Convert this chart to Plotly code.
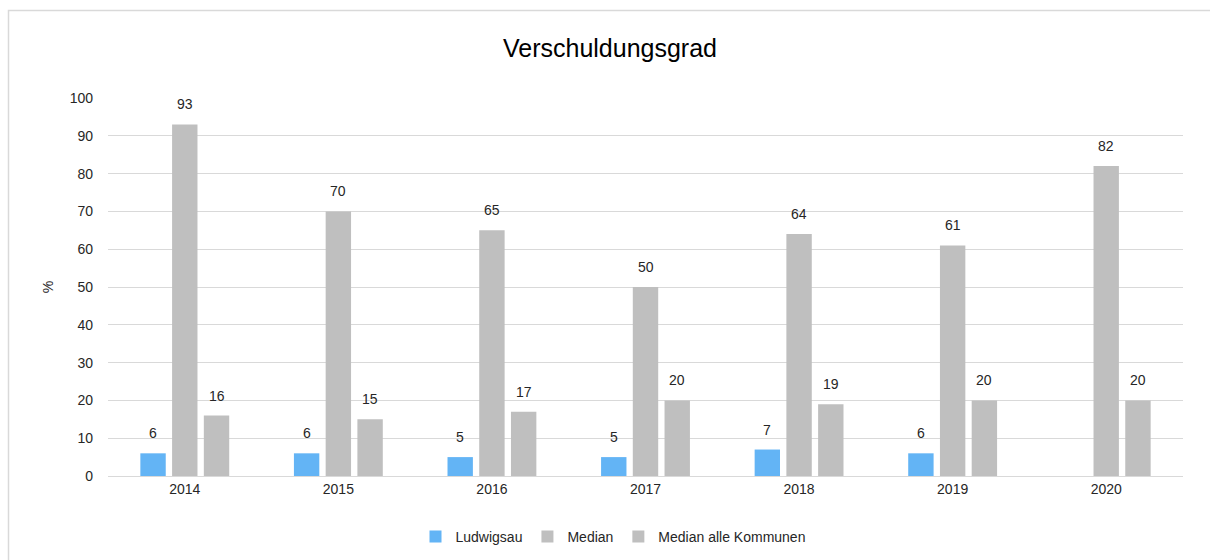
import plotly.graph_objects as go

# Data
years = ['2014', '2015', '2016', '2017', '2018', '2019', '2020']
ludwigsau = [6, 6, 5, 5, 7, 6, None]
median = [93, 70, 65, 50, 64, 61, 82]
median_alle = [16, 15, 17, 20, 19, 20, 20]

BLUE = '#63B4F5'
GREY = '#BFBFBF'
TXT = '#262626'
BARGAP = 0.38

series = [('Ludwigsau', ludwigsau, BLUE),
          ('Median', median, GREY),
          ('Median alle Kommunen', median_alle, GREY)]

fig = go.Figure()
slot = (1 - BARGAP) / len(series)
for i, (name, vals, col) in enumerate(series):
    fig.add_trace(go.Bar(x=years, y=vals, name=name, marker_color=col,
                         marker_line_width=0, hoverinfo='x+y+name'))
    # data labels, Excel-style, a bit above the bar
    for j, v in enumerate(vals):
        if v is None:
            continue
        fig.add_annotation(x=j + (i - 1) * slot, y=v, xref='x', yref='y',
                           text=str(v), showarrow=False, yshift=20,
                           font=dict(size=14, color=TXT))

# the chart area continues a little below the window (as in the original)
W, H = 1210, 590
L, R, T, B = 108, 27, 98, 114
pw, ph = W - L - R, H - T - B

fig.update_layout(
    width=W, height=H,
    margin=dict(l=L, r=R, t=T, b=B),
    paper_bgcolor='white', plot_bgcolor='white',
    font=dict(family='Liberation Sans, Arial, sans-serif', size=14, color=TXT),
    title=dict(text='Verschuldungsgrad', x=610 / W, xanchor='center',
               y=1 - 48 / H, yanchor='middle',
               font=dict(size=25, color='#000000')),
    barmode='group', bargap=BARGAP, bargroupgap=0.2,
    legend=dict(orientation='h', x=(613 - L) / pw, xanchor='center',
                y=-(537 - (T + ph)) / ph, yanchor='middle',
                font=dict(size=14, color=TXT), itemwidth=30, traceorder='normal'),
    showlegend=True,
)
fig.update_yaxes(range=[0, 100], dtick=10, showgrid=True, gridcolor='#D9D9D9', gridwidth=1,
                 zeroline=False, showline=False, ticks='', ticklen=0, ticklabelstandoff=14,
                 title=dict(text='%', standoff=12, font=dict(size=14, color=TXT)))
fig.update_xaxes(showline=True, linecolor='#D9D9D9', linewidth=1, ticks='', showgrid=False)

# outer chart border (right and bottom edges run off the canvas)
fig.add_shape(type='rect', xref='paper', yref='paper',
              x0=-(L - 8.5) / pw, x1=(W - L + 30) / pw,
              y0=-(B + 30) / ph, y1=1 + (T - 10.5) / ph,
              line=dict(color='#D9D9D9', width=1.5), fillcolor='rgba(0,0,0,0)', layer='below')

# drop the default page margin so the figure fills the window exactly
fig.write_html("out.html", config={'displayModeBar': False},
               post_script="document.body.style.margin='0';document.body.style.overflow='hidden';")
